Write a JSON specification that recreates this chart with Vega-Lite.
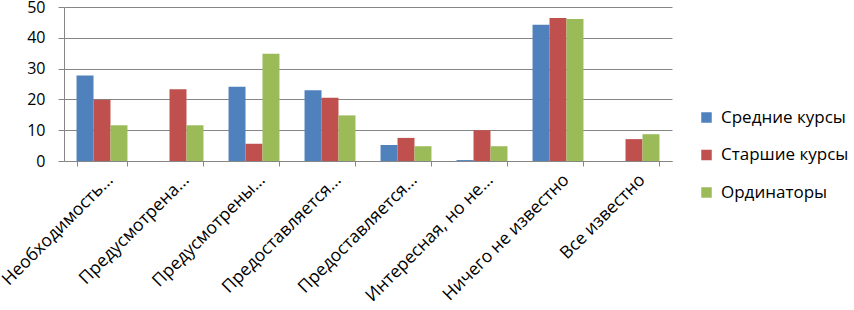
{
  "$schema": "https://vega.github.io/schema/vega-lite/v6.json",
  "width": 608,
  "height": 154,
  "autosize": {"type": "none"},
  "padding": {"left": 64, "top": 7, "right": 182, "bottom": 149},
  "background": "white",
  "data": {
    "values": [
      {"cat": "Необходимость...", "group": "Средние курсы", "value": 27.8},
      {"cat": "Необходимость...", "group": "Старшие курсы", "value": 19.9},
      {"cat": "Необходимость...", "group": "Ординаторы", "value": 11.6},
      {"cat": "Предусмотрена...", "group": "Средние курсы", "value": 0},
      {"cat": "Предусмотрена...", "group": "Старшие курсы", "value": 23.3},
      {"cat": "Предусмотрена...", "group": "Ординаторы", "value": 11.6},
      {"cat": "Предусмотрены...", "group": "Средние курсы", "value": 24.1},
      {"cat": "Предусмотрены...", "group": "Старшие курсы", "value": 5.6},
      {"cat": "Предусмотрены...", "group": "Ординаторы", "value": 34.8},
      {"cat": "Предоставляется...", "group": "Средние курсы", "value": 23.0},
      {"cat": "Предоставляется...", "group": "Старшие курсы", "value": 20.5},
      {"cat": "Предоставляется...", "group": "Ординаторы", "value": 14.8},
      {"cat": "Предоставляется... ", "group": "Средние курсы", "value": 5.2},
      {"cat": "Предоставляется... ", "group": "Старшие курсы", "value": 7.5},
      {"cat": "Предоставляется... ", "group": "Ординаторы", "value": 4.8},
      {"cat": "Интересная, но не...", "group": "Средние курсы", "value": 0.3},
      {"cat": "Интересная, но не...", "group": "Старшие курсы", "value": 10.0},
      {"cat": "Интересная, но не...", "group": "Ординаторы", "value": 4.8},
      {"cat": "Ничего не известно", "group": "Средние курсы", "value": 44.2},
      {"cat": "Ничего не известно", "group": "Старшие курсы", "value": 46.4},
      {"cat": "Ничего не известно", "group": "Ординаторы", "value": 46.1},
      {"cat": "Все известно", "group": "Средние курсы", "value": 0},
      {"cat": "Все известно", "group": "Старшие курсы", "value": 7.1},
      {"cat": "Все известно", "group": "Ординаторы", "value": 8.7}
    ]
  },
  "mark": {"type": "bar"},
  "encoding": {
    "x": {
      "field": "cat",
      "type": "nominal",
      "sort": null,
      "title": null,
      "scale": {"paddingInner": 0.33, "paddingOuter": 0.165},
      "axis": {
        "labelAngle": -45,
        "labelAlign": "right",
        "labelBaseline": "middle",
        "labelFont": "Open Sans",
        "labelFontSize": 17.5,
        "labelColor": "black",
        "labelPadding": 11,
        "labelOffset": 8,
        "labelLimit": 300,
        "tickBand": "extent",
        "tickSize": 5,
        "tickColor": "#868686",
        "domainColor": "#868686",
        "grid": false
      }
    },
    "xOffset": {"field": "group", "type": "nominal", "sort": ["Средние курсы", "Старшие курсы", "Ординаторы"], "scale": {"paddingInner": 0, "paddingOuter": 0}},
    "y": {
      "field": "value",
      "type": "quantitative",
      "title": null,
      "scale": {"domain": [0, 50], "nice": false},
      "axis": {
        "values": [0, 10, 20, 30, 40, 50],
        "labelFont": "Open Sans",
        "labelFontSize": 16,
        "labelColor": "black",
        "labelPadding": 13,
        "tickSize": 6,
        "tickColor": "#868686",
        "domainColor": "#868686",
        "gridColor": "#868686",
        "gridWidth": 1
      }
    },
    "color": {
      "field": "group",
      "type": "nominal",
      "sort": ["Средние курсы", "Старшие курсы", "Ординаторы"],
      "scale": {"domain": ["Средние курсы", "Старшие курсы", "Ординаторы"], "range": ["#4F81BD", "#C0504D", "#9BBB59"]},
      "legend": {
        "title": null,
        "orient": "none",
        "legendX": 634,
        "legendY": 102,
        "symbolType": "square",
        "symbolSize": 110,
        "symbolStrokeWidth": 0,
        "labelFont": "Open Sans",
        "labelFontSize": 17,
        "labelColor": "black",
        "labelOffset": 6,
        "labelLimit": 200,
        "rowPadding": 19.5
      }
    }
  },
  "config": {"view": {"stroke": null}}
}
